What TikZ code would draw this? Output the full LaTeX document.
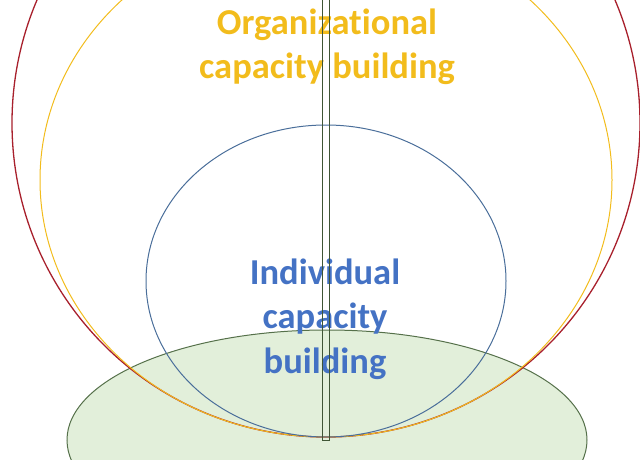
\documentclass[tikz,border=0pt]{standalone}
\usepackage{fontspec}
\setmainfont[RawFeature={-liga;-clig;-calt;-dlig}]{Carlito}
\usepackage{xcolor}
\definecolor{cRed}{HTML}{A8202C}
\definecolor{cGold}{HTML}{F2BC1C}
\definecolor{cBlue}{HTML}{4A6E9A}
\definecolor{cBlueText}{HTML}{4472C4}
\definecolor{cGreen}{HTML}{55704A}
\definecolor{cGreenFill}{HTML}{E2EFDA}
\definecolor{cPole}{HTML}{3F5535}
\usetikzlibrary{shapes.geometric}
\tikzset{
  ring/.style={ellipse,inner sep=0pt,outer sep=0pt,line width=1pt},
  ring-org/.style={ring,draw=cRed,line width=1.3pt},
  ring-cap/.style={ring,draw=cGold},
  ring-ind/.style={ring,draw=cBlue},
  ring-base/.style={ring,draw=cGreen,fill=cGreenFill},
  pole/.style={draw=cPole,line width=1pt,inner sep=0pt,
    minimum width=7pt,minimum height=450pt},
  label-text/.style={align=center,inner sep=0pt,
    font=\bfseries\fontsize{36.5}{44.5}\selectfont},
}

\begin{document}
\begin{tikzpicture}[x=1pt,y=-1pt]
  \useasboundingbox (0,0) rectangle (640,460);
  \clip (0,0) rectangle (640,460);
  % base ellipse first, rings drawn over it
  \node[ring-base,minimum width=520pt,minimum height=220pt] (base) at (327,440) {};
  \node[ring-org,minimum width=628pt,minimum height=628pt] (outer) at (326,123) {};
  \node[ring-cap,minimum width=572pt,minimum height=514pt] (middle) at (326,180) {};
  \node[ring-ind,minimum width=360pt,minimum height=312pt] (inner) at (326,281) {};
  \node[label-text,text=cGold] (orgtext) at (327,47) {Organizational\\capacity building};
  \node[label-text,text=cBlueText] (indtext) at (325,319) {Individual\\capacity\\building};
  \node[pole] (pole) at (326,215) {};
\end{tikzpicture}
\end{document}
